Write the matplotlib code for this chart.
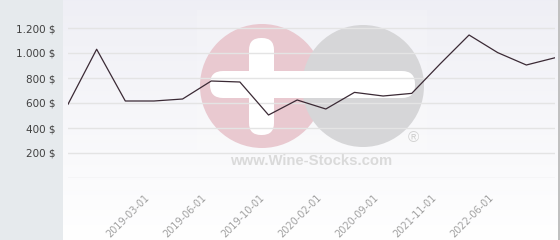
import numpy as np
import matplotlib
matplotlib.use("Agg")
import matplotlib.pyplot as plt
from matplotlib.patches import Circle, FancyBboxPatch, Rectangle
from matplotlib.transforms import ScaledTranslation

# ---- data ----
values = [590, 1030, 616, 616, 632, 776, 768, 504, 624, 552, 685, 656, 677, 915, 1144, 1003, 904, 962]
tick_idx = [3, 5, 7, 9, 11, 13, 15]
tick_labels = ["2019-03-01", "2019-06-01", "2019-10-01", "2020-02-01",
               "2020-09-01", "2021-11-01", "2022-06-01"]
y_ticks = [0, 200, 400, 600, 800, 1000, 1200]

W, H = 560, 240
fig = plt.figure(figsize=(W / 100, H / 100), dpi=100)

def px_axes(x0, y0, x1, y1, **kw):
    return fig.add_axes([x0 / W, 1 - y1 / H, (x1 - x0) / W, (y1 - y0) / H], **kw)

# background
bg = fig.add_axes([0, 0, 1, 1], zorder=0)
bg.axis("off")
bg.add_patch(Rectangle((0, 0), 63, H, color="#e6eaed", lw=0))
grad = np.linspace(0, 1, 256).reshape(-1, 1)
top = np.array([0.937, 0.937, 0.961])
bot = np.array([1.0, 1.0, 1.0])
g = top[None, None, :] + (bot - top)[None, None, :] * grad[:, :, None]
bg.imshow(g, extent=(63, 558, 240, 0), aspect="auto", zorder=0.5)
bg.plot([558.5, 558.5], [0, H], color="#b4b4b4", lw=1.2, zorder=1)
bg.set_xlim(0, W)
bg.set_ylim(H, 0)

# watermark
bg.add_patch(Rectangle((197, 10), 230, 165, color="white", alpha=0.15, lw=0, zorder=1))
bg.add_patch(Circle((262, 86), 62, color="#e9c9d0", lw=0, zorder=2))
bg.add_patch(Circle((363, 86), 61, color="#d6d6d8", lw=0, zorder=3))
bg.add_patch(FancyBboxPatch((249, 38), 25, 97, boxstyle="round,pad=0,rounding_size=12",
                            color="white", lw=0, zorder=4))
bg.add_patch(FancyBboxPatch((210, 71), 205, 27, boxstyle="round,pad=0,rounding_size=13",
                            color="white", lw=0, zorder=4))
bg.text(311, 161, "www.Wine-Stocks.com", fontsize=10.7, fontweight="bold",
        family="Liberation Sans", color="#dadada", ha="center", va="center", zorder=5)
bg.text(413, 138, "®", fontsize=11, family="Liberation Sans", color="#d2d2d2",
        ha="center", va="center", zorder=5)

# main axes
ax = px_axes(68, 0, 555, 178, zorder=2)
ax.patch.set_alpha(0)
x = np.arange(len(values))
ax.plot(x, values, color="#3b2a35", lw=0.9, zorder=3)
ax.set_xlim(0, len(values) - 1)
ax.set_ylim(0, 1424)
for s in ax.spines.values():
    s.set_visible(False)
ax.set_yticks(y_ticks)
ax.set_yticklabels(["" if v == 0 else f"{v:,}".replace(",", ".") + " $" for v in y_ticks],
                   fontsize=7.5, color="#404040", family="DejaVu Sans")
ax.grid(axis="y", color="#e4e4e4", lw=1, zorder=1)
ax.tick_params(axis="y", length=0, pad=9)
ax.set_xticks(tick_idx)
ax.set_xticklabels(tick_labels, rotation=45, ha="right", va="center",
                   rotation_mode="anchor", fontsize=7, color="#a0a0a0")
ax.tick_params(axis="x", length=0, pad=13)
off = ScaledTranslation(-6 / 100, 0, fig.dpi_scale_trans)
for lbl in ax.get_xticklabels():
    lbl.set_transform(lbl.get_transform() + off)

fig.savefig("out.png", dpi=100)
